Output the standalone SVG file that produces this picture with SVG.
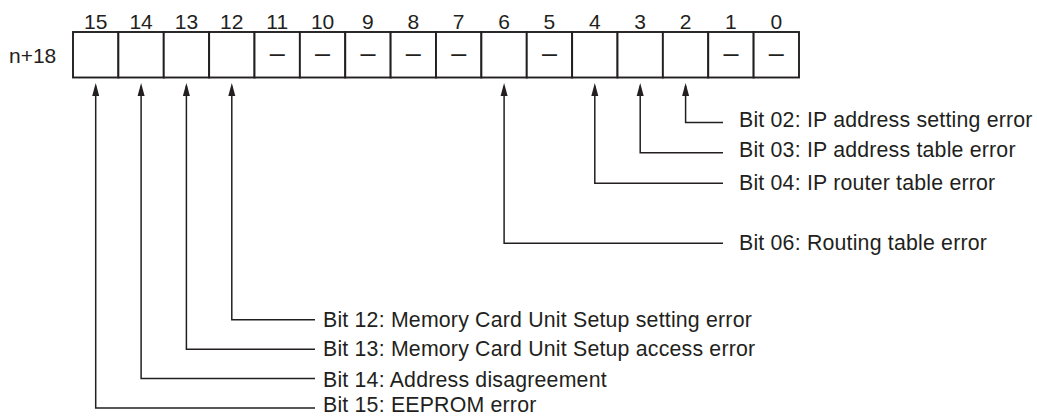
<svg xmlns="http://www.w3.org/2000/svg" width="1037" height="417" viewBox="0 0 1037 417">
<style>
text{font-family:"Liberation Sans",Arial,Helvetica,sans-serif;fill:#231f20;font-size:21px}
.num{text-anchor:middle}
.dash{text-anchor:middle;font-size:27px}
.lbl{font-size:21.3px;letter-spacing:0.2px}
.cell{fill:#fff;stroke:#231f20;stroke-width:1.9}
.conn{fill:none;stroke:#231f20;stroke-width:1.5}
</style>
<defs>
<marker id="ah" markerUnits="userSpaceOnUse" markerWidth="14" markerHeight="8" viewBox="0 -4 14 8" refX="10" refY="0" orient="auto-start-reverse">
<path d="M0,-3.5 L13,0 L0,3.5 Z" fill="#231f20"/>
</marker>
</defs>
<g id="register-label"><text x="9" y="63">n+18</text></g>
<g id="bit-numbers">
<text class="num" x="95.7" y="29">15</text>
<text class="num" x="141.1" y="29">14</text>
<text class="num" x="186.4" y="29">13</text>
<text class="num" x="231.8" y="29">12</text>
<text class="num" x="277.2" y="29">11</text>
<text class="num" x="322.6" y="29">10</text>
<text class="num" x="367.9" y="29">9</text>
<text class="num" x="413.3" y="29">8</text>
<text class="num" x="458.7" y="29">7</text>
<text class="num" x="504.1" y="29">6</text>
<text class="num" x="549.4" y="29">5</text>
<text class="num" x="594.8" y="29">4</text>
<text class="num" x="640.2" y="29">3</text>
<text class="num" x="685.6" y="29">2</text>
<text class="num" x="730.9" y="29">1</text>
<text class="num" x="776.3" y="29">0</text>
</g>
<g id="register">
<g id="bit15"><rect class="cell" x="73" y="32" width="45.375" height="45.5"/></g>
<g id="bit14"><rect class="cell" x="118.375" y="32" width="45.375" height="45.5"/></g>
<g id="bit13"><rect class="cell" x="163.75" y="32" width="45.375" height="45.5"/></g>
<g id="bit12"><rect class="cell" x="209.125" y="32" width="45.375" height="45.5"/></g>
<g id="bit11"><rect class="cell" x="254.5" y="32" width="45.375" height="45.5"/><text class="dash" x="277.2" y="62.2">–</text></g>
<g id="bit10"><rect class="cell" x="299.875" y="32" width="45.375" height="45.5"/><text class="dash" x="322.6" y="62.2">–</text></g>
<g id="bit9"><rect class="cell" x="345.25" y="32" width="45.375" height="45.5"/><text class="dash" x="367.9" y="62.2">–</text></g>
<g id="bit8"><rect class="cell" x="390.625" y="32" width="45.375" height="45.5"/><text class="dash" x="413.3" y="62.2">–</text></g>
<g id="bit7"><rect class="cell" x="436" y="32" width="45.375" height="45.5"/><text class="dash" x="458.7" y="62.2">–</text></g>
<g id="bit6"><rect class="cell" x="481.375" y="32" width="45.375" height="45.5"/></g>
<g id="bit5"><rect class="cell" x="526.75" y="32" width="45.375" height="45.5"/><text class="dash" x="549.4" y="62.2">–</text></g>
<g id="bit4"><rect class="cell" x="572.125" y="32" width="45.375" height="45.5"/></g>
<g id="bit3"><rect class="cell" x="617.5" y="32" width="45.375" height="45.5"/></g>
<g id="bit2"><rect class="cell" x="662.875" y="32" width="45.375" height="45.5"/></g>
<g id="bit1"><rect class="cell" x="708.25" y="32" width="45.375" height="45.5"/><text class="dash" x="730.9" y="62.2">–</text></g>
<g id="bit0"><rect class="cell" x="753.625" y="32" width="45.375" height="45.5"/><text class="dash" x="776.3" y="62.2">–</text></g>
</g>
<g id="connectors">
<path class="conn" marker-start="url(#ah)" d="M685.6,86 V122.5 H723"/>
<path class="conn" marker-start="url(#ah)" d="M640.2,86 V152.7 H723"/>
<path class="conn" marker-start="url(#ah)" d="M594.8,86 V183.3 H723"/>
<path class="conn" marker-start="url(#ah)" d="M504.1,86 V243.3 H723"/>
<path class="conn" marker-start="url(#ah)" d="M231.8,86 V319.8 H315"/>
<path class="conn" marker-start="url(#ah)" d="M186.4,86 V349.3 H315"/>
<path class="conn" marker-start="url(#ah)" d="M141.1,86 V378.5 H315"/>
<path class="conn" marker-start="url(#ah)" d="M95.7,86 V408 H315"/>
</g>
<g id="label-bit02"><text class="lbl" x="739" y="127">Bit 02: IP address setting error</text></g>
<g id="label-bit03"><text class="lbl" x="739" y="157">Bit 03: IP address table error</text></g>
<g id="label-bit04"><text class="lbl" x="739" y="189.5">Bit 04: IP router table error</text></g>
<g id="label-bit06"><text class="lbl" x="739" y="250">Bit 06: Routing table error</text></g>
<g id="label-bit12"><text class="lbl" x="323" y="327">Bit 12: Memory Card Unit Setup setting error</text></g>
<g id="label-bit13"><text class="lbl" x="323" y="356">Bit 13: Memory Card Unit Setup access error</text></g>
<g id="label-bit14"><text class="lbl" x="323" y="386.5">Bit 14: Address disagreement</text></g>
<g id="label-bit15"><text class="lbl" x="323" y="412">Bit 15: EEPROM error</text></g>
</svg>
